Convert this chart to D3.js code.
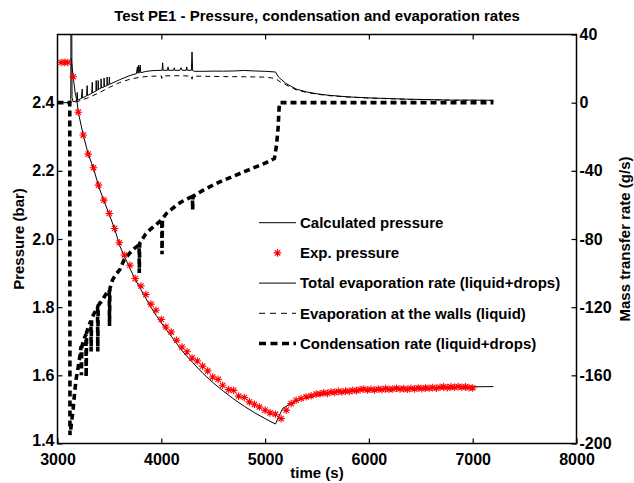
<!DOCTYPE html>
<html><head><meta charset="utf-8">
<script src="https://cdn.jsdelivr.net/npm/d3@7"></script>
<style>
body{margin:0;background:#fff}
svg{display:block}
text{font-family:"Liberation Sans",Arial,sans-serif;font-weight:bold;fill:#000}
</style>
</head><body>
<svg id="chart" width="634" height="483"></svg>
<script>
// ---------- DATA ----------
const titleText = "Test PE1 - Pressure, condensation and evaporation rates";
const xTicks = [3000, 4000, 5000, 6000, 7000, 8000];
const topTicks = [4000, 5000, 6000, 7000];
const leftTicks = [1.4, 1.6, 1.8, 2.0, 2.2, 2.4];
const rightTicks = [-200, -160, -120, -80, -40, 0, 40];
const legendLabels = ["Calculated pressure", "Exp. pressure", "Total evaporation rate (liquid+drops)", "Evaporation at the walls (liquid)", "Condensation rate (liquid+drops)"];

// Calculated pressure (bar)
const calcTime = [3130, 3135, 3151, 3170, 3190, 3200, 3248, 3296, 3347, 3395, 3447, 3499, 3550, 3600, 3650, 3700, 3750, 3800, 3850, 3900, 3950, 4000, 4100, 4200, 4300, 4400, 4500, 4600, 4700, 4800, 4900, 5000, 5100, 5130, 5170, 5250, 5350, 5500, 5700, 6000, 6300, 6600, 6900, 7200];
const calcPressure = [2.53, 2.52, 2.476, 2.43, 2.40, 2.372, 2.305, 2.249, 2.207, 2.156, 2.112, 2.072, 2.030, 1.980, 1.945, 1.912, 1.881, 1.853, 1.826, 1.800, 1.776, 1.754, 1.713, 1.672, 1.638, 1.606, 1.578, 1.553, 1.530, 1.509, 1.490, 1.473, 1.457, 1.478, 1.503, 1.518, 1.530, 1.541, 1.550, 1.557, 1.561, 1.564, 1.566, 1.567];

// Experimental pressure (bar)
const expTime = [3035, 3070, 3100, 3151, 3200, 3248, 3296, 3347, 3395, 3447, 3499, 3550, 3595, 3643, 3698, 3749, 3804, 3852, 3900, 3949, 4000, 4045, 4096, 4148, 4199, 4248, 4296, 4347, 4398, 4447, 4495, 4547, 4591, 4649, 4697, 4745, 4800, 4849, 4897, 4945, 5000, 5048, 5099, 5154, 5203, 5251, 5299, 5347, 5395, 5443, 5492, 5530, 5565, 5600, 5635, 5670, 5705, 5740, 5775, 5810, 5845, 5880, 5915, 5950, 5985, 6020, 6055, 6090, 6125, 6160, 6195, 6230, 6265, 6300, 6335, 6370, 6405, 6440, 6475, 6510, 6545, 6580, 6615, 6650, 6685, 6720, 6755, 6790, 6825, 6860, 6895, 6930, 6965, 7000];
const expPressure = [2.518, 2.518, 2.518, 2.476, 2.372, 2.305, 2.249, 2.209, 2.158, 2.114, 2.075, 2.031, 1.989, 1.953, 1.923, 1.884, 1.862, 1.837, 1.809, 1.791, 1.764, 1.742, 1.727, 1.703, 1.683, 1.669, 1.651, 1.642, 1.627, 1.613, 1.595, 1.588, 1.571, 1.558, 1.556, 1.539, 1.535, 1.522, 1.515, 1.507, 1.498, 1.490, 1.486, 1.473, 1.498, 1.517, 1.527, 1.532, 1.537, 1.540, 1.545, 1.546, 1.549, 1.547, 1.551, 1.550, 1.553, 1.551, 1.554, 1.553, 1.556, 1.555, 1.558, 1.560, 1.557, 1.559, 1.557, 1.560, 1.558, 1.561, 1.559, 1.560, 1.562, 1.560, 1.561, 1.559, 1.562, 1.560, 1.563, 1.561, 1.563, 1.562, 1.564, 1.562, 1.565, 1.566, 1.564, 1.566, 1.565, 1.567, 1.565, 1.566, 1.564, 1.563];

// Total evaporation rate (g/s)
const totTime = [3000, 3128, 3130, 3136, 3140, 3150, 3180, 3188, 3190, 3193, 3230, 3238, 3241, 3280, 3286, 3289, 3330, 3335, 3338, 3370, 3373, 3376, 3390, 3392, 3395, 3418, 3420, 3423, 3447, 3449, 3452, 3476, 3478, 3481, 3497, 3500, 3503, 3600, 3700, 3760, 3770, 3775, 3781, 3786, 3797, 3802, 3850, 3900, 3950, 4008, 4013, 4018, 4060, 4065, 4070, 4120, 4125, 4130, 4180, 4190, 4200, 4240, 4245, 4250, 4290, 4296, 4302, 4320, 4400, 4500, 4600, 4700, 4800, 4900, 5000, 5100, 5130, 5200, 5300, 5400, 5500, 5600, 5800, 6000, 6200, 6400, 6600, 6800, 7000, 7200];
const totRate = [0, 0, 70, 70, 3, 0.5, 1.0, 1.2, 6, 1.5, 2.5, 8, 2.8, 4, 10, 4.2, 5.5, 12, 5.8, 6.8, 13, 7, 7.5, 13, 7.8, 8.5, 14, 8.7, 9.2, 14.5, 9.4, 10, 15, 10.2, 10.6, 15, 10.8, 13.5, 16, 17, 21, 17.2, 22, 17.4, 22, 17.6, 18.3, 18.7, 18.9, 19, 23.4, 19, 19, 21, 19, 19, 20.5, 19, 19, 20.5, 19, 19, 21, 19, 19, 29.8, 18.8, 18.4, 18.4, 18.5, 18.5, 18.6, 18.9, 18.6, 18.4, 18, 15, 11.3, 8, 6.3, 5.2, 4.4, 3.4, 2.8, 2.4, 2.0, 1.8, 1.5, 1.5, 1.4];

// Evaporation at the walls (g/s)
const wallTime = [3000, 3150, 3200, 3300, 3400, 3500, 3600, 3700, 3800, 3900, 4000, 4005, 4010, 4100, 4200, 4290, 4296, 4302, 4400, 4600, 4800, 5000, 5100, 5150, 5200, 5300, 5400, 5500, 5600, 5800, 6000, 6200, 6400, 6600, 6800, 7000, 7200];
const wallRate = [0, 0, 0.8, 3, 5.8, 9, 11.8, 13.8, 15, 15.5, 15.7, 14.2, 15.7, 15.8, 15.8, 15.6, 13.8, 15.6, 15.5, 15.3, 15.2, 15.0, 14.2, 12, 10.5, 7.5, 6, 5, 4.2, 3.3, 2.7, 2.3, 1.9, 1.7, 1.4, 1.4, 1.3];

// Condensation rate (g/s)
const condTime = [3000, 3118, 3120, 3125, 3135, 3150, 3165, 3180, 3200, 3220, 3226, 3230, 3235, 3260, 3274, 3276, 3280, 3300, 3322, 3324, 3328, 3350, 3386, 3388, 3392, 3420, 3450, 3470, 3499, 3501, 3505, 3530, 3560, 3600, 3643, 3700, 3750, 3786, 3788, 3792, 3850, 3900, 3950, 4000, 4005, 4007, 4011, 4050, 4100, 4150, 4200, 4250, 4300, 4302, 4306, 4400, 4500, 4600, 4700, 4800, 4900, 5000, 5090, 5110, 5125, 5135, 5140, 7200];
const condRate = [0, 0, -195, -193, -188, -180, -170, -162, -155, -147, -143, -160, -143, -138, -136, -161, -135, -131, -128, -146, -127, -124, -120, -146, -119, -117, -114, -112, -110, -131, -109, -104, -101, -98, -92, -88, -85, -83.5, -100, -82.5, -77, -74, -71.5, -69, -68.5, -89, -68, -65, -62.5, -60, -58, -56.5, -55, -63, -55, -51.5, -48.3, -45.5, -43, -40.5, -38, -35.5, -32.7, -25, -15, -3, 0, 0];

// ---------- CHART ----------
const W = 634, H = 483;
const L = 57.5, R = 576.5, T = 34.5, B = 443.5;
const svg = d3.select("#chart");

const x = d3.scaleLinear().domain([3000, 8000]).range([L, R]);
const yL = d3.scaleLinear().domain([1.4, 2.6]).range([B, T]);
const yR = d3.scaleLinear().domain([-200, 40]).range([B, T]);

svg.append("defs").append("clipPath").attr("id", "clip")
  .append("rect").attr("x", L).attr("y", T).attr("width", R - L).attr("height", B - T);

const plot = svg.append("g").attr("clip-path", "url(#clip)");

const lineP = (ts, vs) => d3.line().x((d, i) => x(ts[i])).y((d, i) => yL(vs[i]))(ts);
const lineR = (ts, vs) => d3.line().x((d, i) => x(ts[i])).y((d, i) => yR(vs[i]))(ts);

// condensation (thick dashed)
plot.append("path").attr("d", lineR(condTime, condRate))
  .attr("fill", "none").attr("stroke", "#000").attr("stroke-width", 3.6)
  .attr("stroke-dasharray", "6,4");
// walls (thin dashed)
plot.append("path").attr("d", lineR(wallTime, wallRate))
  .attr("fill", "none").attr("stroke", "#000").attr("stroke-width", 1)
  .attr("stroke-dasharray", "5,4");
// total evaporation (thin solid)
plot.append("path").attr("d", lineR(totTime, totRate))
  .attr("fill", "none").attr("stroke", "#000").attr("stroke-width", 1);
// calculated pressure
plot.append("path").attr("d", lineP(calcTime, calcPressure))
  .attr("fill", "none").attr("stroke", "#000").attr("stroke-width", 1);

const starPath = "M-3.8,0H3.8M0,-3.8V3.8M-2.7,-2.7L2.7,2.7M-2.7,2.7L2.7,-2.7";
plot.append("g").selectAll("path").data(expTime).join("path")
  .attr("transform", (d, i) => `translate(${x(d)},${yL(expPressure[i])})`)
  .attr("d", starPath).attr("fill", "none").attr("stroke", "#ff0000").attr("stroke-width", 1.1);

// frame
svg.append("rect").attr("x", L).attr("y", T).attr("width", R - L).attr("height", B - T)
  .attr("fill", "none").attr("stroke", "#000").attr("stroke-width", 1.5);

// axes
const fs = 16;
const gx = svg.append("g").attr("transform", `translate(0,${B})`)
  .call(d3.axisBottom(x).tickValues(xTicks).tickFormat(d3.format("d")).tickSizeInner(-5).tickSizeOuter(0).tickPadding(10));
const gt = svg.append("g").attr("transform", `translate(0,${T})`)
  .call(d3.axisTop(x).tickValues(topTicks).tickFormat("").tickSizeInner(-5).tickSizeOuter(0));
const gl = svg.append("g").attr("transform", `translate(${L},0)`)
  .call(d3.axisLeft(yL).tickValues(leftTicks).tickFormat(d3.format(".1f")).tickSizeInner(-5).tickSizeOuter(0).tickPadding(3));
const gr = svg.append("g").attr("transform", `translate(${R},0)`)
  .call(d3.axisRight(yR).tickValues(rightTicks).tickFormat(d3.format("d")).tickSizeInner(-5).tickSizeOuter(0).tickPadding(3));
[gx, gt, gl, gr].forEach(g => {
  g.select(".domain").remove();
  g.selectAll("line").attr("stroke", "#000").attr("stroke-width", 1.2);
  g.selectAll("text").attr("font-size", fs).attr("font-family", "'Liberation Sans',Arial,sans-serif").attr("font-weight", "bold").attr("fill", "#000");
});
gr.selectAll("text").text(d => d < 0 ? "-" + Math.abs(d) : d);
// lift the lowest left label slightly so it clears the x labels
gl.selectAll("text").filter(d => d === 1.4).attr("dy", "0.1em");

// title & labels
svg.append("text").attr("x", (L + R) / 2).attr("y", 21).attr("text-anchor", "middle")
  .attr("font-size", 15).text(titleText);
svg.append("text").attr("x", (L + R) / 2).attr("y", 478).attr("text-anchor", "middle")
  .attr("font-size", 15).text("time (s)");
svg.append("text").attr("transform", `translate(24,${(T + B) / 2}) rotate(-90)`).attr("text-anchor", "middle")
  .attr("font-size", 15).text("Pressure (bar)");
svg.append("text").attr("transform", `translate(630,${(T + B) / 2}) rotate(-90)`).attr("text-anchor", "middle")
  .attr("font-size", 15).text("Mass transfer rate (g/s)");

// legend
const lg = svg.append("g");
const ly0 = 222.7, ldy = 30.2, lx1 = 259, lx2 = 296, ltx = 300;
legendLabels.forEach((lab, i) => {
  const yy = ly0 + i * ldy;
  if (i === 1) {
    lg.append("path").attr("transform", `translate(${(lx1 + lx2) / 2},${yy})`).attr("d", starPath)
      .attr("fill", "none").attr("stroke", "#ff0000").attr("stroke-width", 1.1);
  } else {
    const ln = lg.append("line").attr("x1", lx1).attr("x2", lx2).attr("y1", yy).attr("y2", yy)
      .attr("stroke", "#000");
    if (i === 3) ln.attr("stroke-width", 1).attr("stroke-dasharray", "6,5");
    else if (i === 4) ln.attr("stroke-width", 3.6).attr("stroke-dasharray", "7,4.5");
    else ln.attr("stroke-width", 1);
  }
  lg.append("text").attr("x", ltx).attr("y", yy).attr("dy", "0.35em").attr("font-size", 15).text(lab);
});
</script>
</body></html>
